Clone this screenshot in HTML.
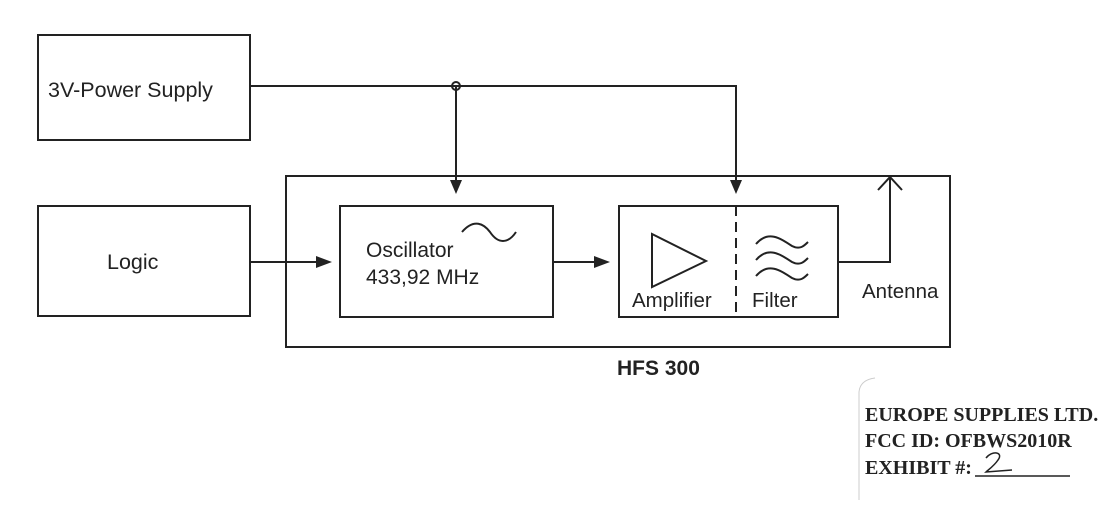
<!DOCTYPE html>
<html><head><meta charset="utf-8"><style>
html,body{margin:0;padding:0;background:#fff;}
svg{display:block;}
text{font-family:"Liberation Sans",Arial,sans-serif;fill:#222;}
.s{font-family:"Liberation Serif",serif;font-weight:bold;}
</style></head><body>
<svg width="1106" height="506" viewBox="0 0 1106 506" xmlns="http://www.w3.org/2000/svg">
<g fill="none" stroke="#222" stroke-width="2">
<rect x="38" y="35" width="212" height="105"/>
<rect x="38" y="206" width="212" height="110"/>
<rect x="286" y="176" width="664" height="171"/>
<rect x="340" y="206" width="213" height="111"/>
<rect x="619" y="206" width="219" height="111"/>
<line x1="736" y1="206" x2="736" y2="317" stroke-dasharray="10,6"/>
<polyline points="250,86 736,86 736,190"/>
<line x1="456" y1="86" x2="456" y2="190"/>
<circle cx="456" cy="86" r="4"/>
<line x1="250" y1="262" x2="320" y2="262"/>
<line x1="553" y1="262" x2="600" y2="262"/>
<polyline points="838,262 890,262 890,177"/>
<polyline points="878,190 890,177 902,190"/>
<polygon points="652,234 652,287 706,261"/>
<path d="M462,232 C474,218 484,224 490,232 C498,244 508,244 516,232"/>
<path d="M756,244 C768,230 780,238 792,246 C800,250 804,246 808,242"/>
<path d="M756,260 C768,246 780,254 792,262 C800,266 804,262 808,258"/>
<path d="M756,276 C768,262 780,270 792,278 C800,282 804,278 808,274"/>
<line x1="975" y1="476" x2="1070" y2="476" stroke-width="1.5"/>
<path d="M859,500 L859,392 Q860,380 875,378" stroke="#ccc" stroke-width="1"/>
<path d="M986,458 C992,450 1004,452 998,460 C994,466 988,470 986,472 L1012,470" stroke-width="1.5"/>
</g>
<g fill="#222">
<polygon points="450,180 462,180 456,194"/>
<polygon points="730,180 742,180 736,194"/>
<polygon points="316,256 316,268 332,262"/>
<polygon points="594,256 594,268 610,262"/>
</g>
<text x="48" y="97" font-size="21.5">3V-Power Supply</text>
<text x="107" y="269" font-size="21.5">Logic</text>
<text x="366" y="257" font-size="21">Oscillator</text>
<text x="366" y="284" font-size="21">433,92 MHz</text>
<text x="632" y="307" font-size="20.5">Amplifier</text>
<text x="752" y="307" font-size="20.5">Filter</text>
<text x="862" y="298" font-size="20.5">Antenna</text>
<text x="617" y="375" font-size="21" font-weight="bold">HFS 300</text>
<text class="s" x="865" y="421" font-size="20">EUROPE SUPPLIES LTD.</text>
<text class="s" x="865" y="447" font-size="20">FCC ID: OFBWS2010R</text>
<text class="s" x="865" y="474" font-size="20">EXHIBIT #:</text>
</svg>
</body></html>
